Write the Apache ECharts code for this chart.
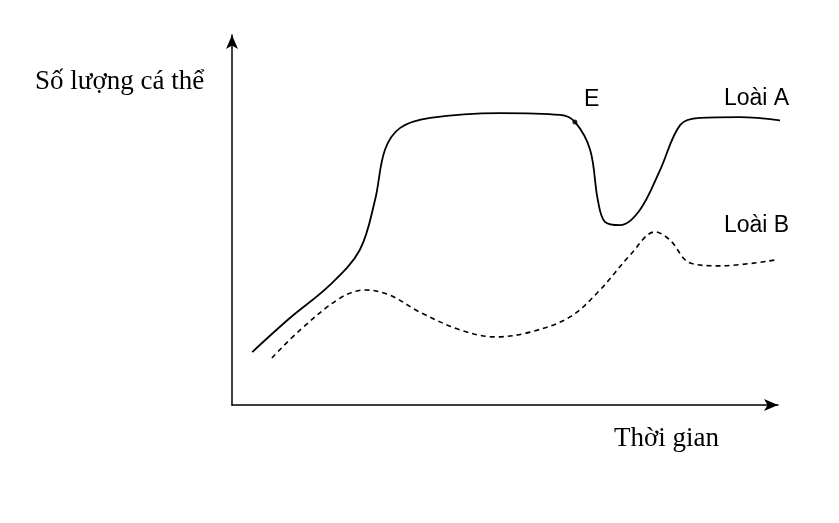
<!DOCTYPE html>
<html>
<head>
<meta charset="utf-8">
<script src="https://cdn.jsdelivr.net/npm/echarts@6/dist/echarts.min.js"></script>
<style>html,body{margin:0;padding:0;background:#fff}#main{width:839px;height:523px}</style>
</head>
<body>
<div id="main"></div>
<script>
// species A (solid), species B (dashed): [time, count] on 0-100 scales
var speciesA = [[3.7,14.3],[10.6,23.5],[17.9,32.4],[23.4,41.9],[26.2,55.4],[28.0,68.9],[30.8,74.9],[36.3,77.6],[49.1,78.9],[60.1,78.4],[62.8,76.5],[65.6,68.9],[67.0,55.4],[68.3,49.5],[71.1,48.6],[74.7,52.7],[78.4,63.5],[82.1,75.7],[85.7,77.6],[93.0,77.8],[101,76.8]]
var speciesB = [[7.3,12.7],[12.5,20.3],[19.8,28.9],[24.4,31.1],[28.9,29.7],[34.4,25.1],[41.8,20.3],[48.2,18.4],[54.6,19.7],[61.9,23.8],[67.4,31.1],[72.9,40.5],[77.5,46.8],[80.2,44.6],[83.9,38.4],[89.4,37.6],[99.5,39.2]]
var pointE = [[62.8,76.5]]

var chart = echarts.init(document.getElementById('main'))
var axisStyle = {
  show: true,
  symbol: ['none', 'arrow'],
  symbolSize: [9, 14],
  lineStyle: { color: '#000', width: 1.5 }
}
chart.setOption({
  backgroundColor: '#ffffff',
  animation: false,
  grid: { left: 232, right: 61, top: 35, bottom: 118 },
  xAxis: { type: 'value', min: 0, max: 100, axisLine: axisStyle, axisTick: { show: false }, axisLabel: { show: false }, splitLine: { show: false } },
  yAxis: { type: 'value', min: 0, max: 100, axisLine: axisStyle, axisTick: { show: false }, axisLabel: { show: false }, splitLine: { show: false } },
  graphic: [
    { type: 'text', left: 35, top: 68, style: { text: 'Số lượng cá thể', font: '27px "Liberation Serif"', fill: '#000' } },
    { type: 'text', left: 614, top: 425, style: { text: 'Thời gian', font: '27px "Liberation Serif"', fill: '#000' } },
    { type: 'text', left: 584, top: 88, style: { text: 'E', font: '23px "Liberation Sans"', fill: '#000' } },
    { type: 'text', left: 724, top: 87, style: { text: 'Loài A', font: '23px "Liberation Sans"', fill: '#000' } },
    { type: 'text', left: 724, top: 214, style: { text: 'Loài B', font: '23px "Liberation Sans"', fill: '#000' } }
  ],
  series: [
    { type: 'line', data: speciesA, smooth: 0.35, showSymbol: false, clip: false, lineStyle: { color: '#000', width: 1.8 } },
    { type: 'line', data: speciesB, smooth: 0.35, showSymbol: false, clip: false, lineStyle: { color: '#000', width: 1.6, type: [5, 4] } },
    { type: 'scatter', data: pointE, symbolSize: 5, itemStyle: { color: '#000' } }
  ]
})
</script>
</body>
</html>
